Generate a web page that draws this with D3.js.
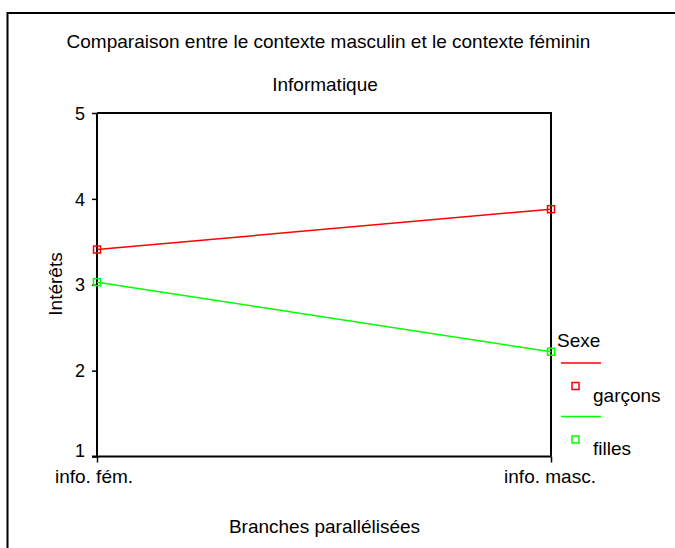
<!DOCTYPE html>
<html><head><meta charset="utf-8">
<script src="https://cdn.jsdelivr.net/npm/d3@7"></script>
<style>body{margin:0;background:#fff;} text{font-family:"Liberation Sans",Arial,sans-serif;fill:#000;}</style>
</head><body>
<svg id="c" width="675" height="548"></svg>
<script>
const categories = ["info. fém.", "info. masc."];
const garcons = [3.41, 3.88];
const filles = [3.03, 2.22];
const yTicks = [1, 2, 3, 4, 5];
const seriesNames = ["garçons", "filles"];
const seriesColors = ["#ff0000", "#00ff00"];

const svg = d3.select("#c");
// outer frame
svg.append("path").attr("d", "M7.5,548 V13 H675").attr("fill","none").attr("stroke","#000").attr("stroke-width",2);

const x = d3.scalePoint().domain(categories).range([97, 551]);
const y = d3.scaleLinear().domain([1, 5]).range([456.5, 113]);

// plot frame top/right
svg.append("path").attr("d", `M${x.range()[0]},${y(5)} H${x.range()[1]} V${y(1)}`).attr("fill","none").attr("stroke","#000").attr("stroke-width",2);

const yAxis = svg.append("g").attr("transform", `translate(${x.range()[0]},0)`)
  .call(d3.axisLeft(y).tickValues(yTicks).tickFormat(d3.format("d")).tickSize(5).tickPadding(7));
const xAxis = svg.append("g").attr("transform", `translate(0,${y(1)})`)
  .call(d3.axisBottom(x).tickSize(6).tickPadding(3));
[yAxis, xAxis].forEach(a => {
  a.select(".domain").attr("stroke-width", 2).attr("stroke","#000");
  a.selectAll(".tick line").attr("stroke-width", 1.5).attr("stroke","#000");
  a.selectAll("text").attr("font-family", "Liberation Sans, Arial, sans-serif").attr("fill","#000");
});
yAxis.selectAll("text").attr("font-size", 18);
xAxis.selectAll("text").attr("font-size", 19);
xAxis.select(".domain").attr("d", `M${x.range()[0]-5},0H${x.range()[1]}`);
yAxis.select(".domain").attr("d", `M0,${y(5)}V${y(1)}`);
yAxis.selectAll(".tick text").attr("dy", d => d === 1 ? "-0.02em" : "0.34em");
xAxis.selectAll(".tick text").attr("dy", null).attr("y", 26.5)
  .attr("transform", (d,i) => i === 0 ? "translate(-3.5,0)" : "translate(-1.5,0)");

const series = [garcons, filles];
const line = d3.line().x((d,i) => x(categories[i])).y(d => y(d));
series.forEach((s, k) => {
  svg.append("path").datum(s).attr("d", line).attr("fill","none").attr("stroke", seriesColors[k]).attr("stroke-width", 1.5);
  svg.selectAll(null).data(s).enter().append("rect")
    .attr("x", (d,i) => x(categories[i]) - 3.5).attr("y", d => y(d) - 3.5)
    .attr("width", 7).attr("height", 7).attr("fill","none")
    .attr("stroke", seriesColors[k]).attr("stroke-width", 1.5);
});

// titles
function label(xp, yp, txt) {
  return svg.append("text").attr("x", xp).attr("y", yp).attr("text-anchor","middle").attr("font-size", 19).text(txt);
}
label(328.5, 48, "Comparaison entre le contexte masculin et le contexte féminin");
label(325, 91, "Informatique");
label(324.5, 532.5, "Branches parallélisées");
svg.append("text").attr("transform", "translate(62,284) rotate(-90)").attr("text-anchor","middle").attr("font-size", 19)
  .text("Intérêts");

// legend
svg.append("text").attr("x", 557).attr("y", 347).attr("font-size", 19).text("Sexe");
seriesNames.forEach((n, k) => {
  const oy = 363 + k * 53.5;
  svg.append("line").attr("x1", 561).attr("x2", 601).attr("y1", oy).attr("y2", oy)
    .attr("stroke", seriesColors[k]).attr("stroke-width", 1.5);
  svg.append("rect").attr("x", 572).attr("y", oy + 19.5).attr("width", 7).attr("height", 7)
    .attr("fill","none").attr("stroke", seriesColors[k]).attr("stroke-width", 1.5);
  svg.append("text").attr("x", 593).attr("y", oy + 38.5).attr("font-size", 19).text(n);
});
</script>
</body></html>
